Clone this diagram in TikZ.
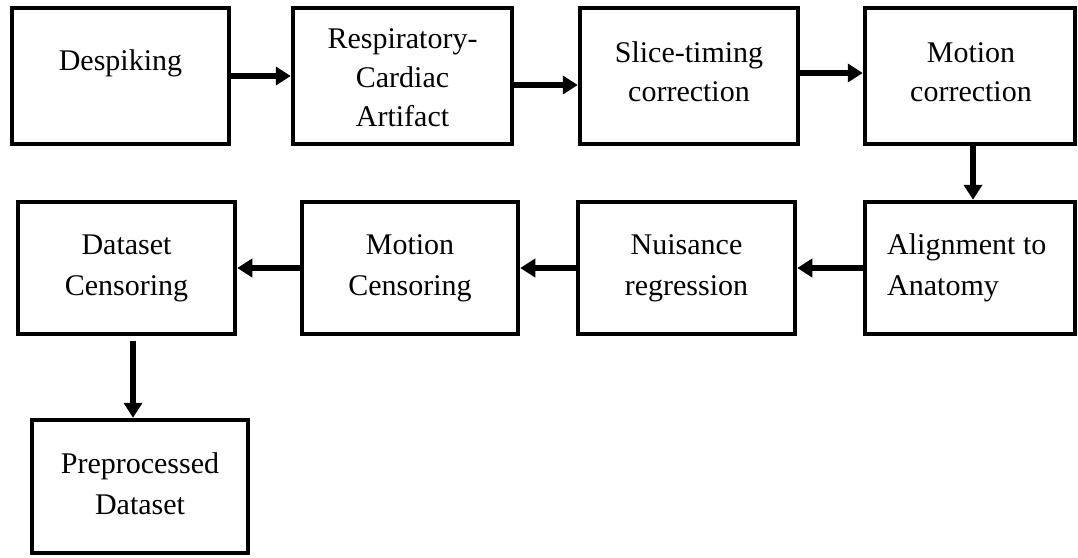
\documentclass[tikz,border=0pt]{standalone}
\usepackage{fontspec}
\setmainfont{Liberation Serif}
\usetikzlibrary{arrows.meta, positioning}

\tikzset{
  stage/.style 2 args={draw, line width=4.5pt, minimum width=#1, minimum height=#2, inner sep=0pt},
  steptext/.style={align=center, inner sep=0pt},
  widetext/.style={font=\fontsize{30}{41}\selectfont},
  flow/.style={line width=5.5pt, -{Triangle[length=15pt, width=18pt]}}
}

\begin{document}
\begin{tikzpicture}[x=1pt, y=-1pt, font=\fontsize{30}{39}\selectfont]
    \useasboundingbox (0,0) rectangle (1078,557);

    % top row
    \node[stage={217pt}{136pt}] (despike) at (120.5,76) {};
    \node[stage={219pt}{136pt}] (resp) at (402.5,76) {};
    \node[stage={218pt}{136pt}] (slice) at (689,76) {};
    \node[stage={210pt}{136pt}] (motcor) at (970,76) {};

    % second row
    \node[stage={217pt}{132pt}] (dscens) at (126.5,268) {};
    \node[stage={216pt}{132pt}] (motcens) at (410,268) {};
    \node[stage={217pt}{132pt}] (nuis) at (686.5,268) {};
    \node[stage={210pt}{132pt}] (align) at (970,268) {};

    % output
    \node[stage={216pt}{133pt}] (prep) at (140,486.5) {};

    % labels (base = last line)
    \node[steptext, anchor=base] (despiketxt) at (120.5,70) {Despiking};
    \node[steptext, anchor=base] (resptxt) at (402.5,126) {Respiratory-\\Cardiac\\Artifact};
    \node[steptext, anchor=base] (slicetxt) at (689,101) {Slice-timing\\correction};
    \node[steptext, anchor=base] (motcortxt) at (971,101) {Motion\\correction};
    \node[steptext, widetext, anchor=base] (dscenstxt) at (126.5,295) {Dataset\\Censoring};
    \node[steptext, widetext, anchor=base] (motcenstxt) at (410,295) {Motion\\Censoring};
    \node[steptext, widetext, anchor=base] (nuistxt) at (686.5,295) {Nuisance\\regression};
    \node[steptext, widetext, align=left, anchor=base west] (aligntxt) at (887,295) {Alignment to\\Anatomy};
    \node[steptext, widetext, anchor=base] (preptxt) at (140,514) {Preprocessed\\Dataset};

    % connectors
    \draw[flow] (despike.east) -- (resp.west);
    \draw[flow] ([yshift=-9pt]resp.east) -- ([yshift=-9pt]slice.west);
    \draw[flow] ([yshift=3pt]slice.east) -- ([yshift=3pt]motcor.west);
    \draw[flow] ([xshift=3pt]motcor.south) -- ([xshift=3pt]align.north);
    \draw[flow] (align.west) -- (nuis.east);
    \draw[flow] (nuis.west) -- (motcens.east);
    \draw[flow] (motcens.west) -- (dscens.east);
    \draw[flow, shorten <=5pt] ([xshift=6.5pt]dscens.south) -- ([xshift=-7pt]prep.north);
\end{tikzpicture}
\end{document}
